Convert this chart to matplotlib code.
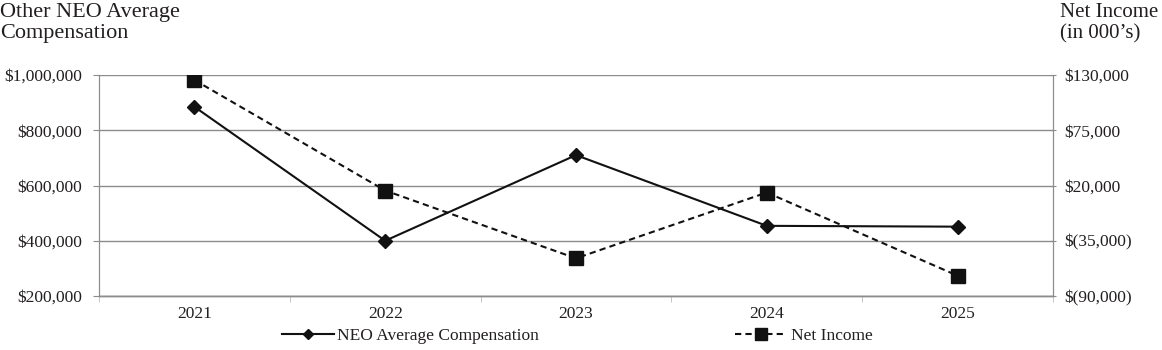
import numpy as np
import matplotlib
matplotlib.use('Agg')
import matplotlib.pyplot as plt
from matplotlib.ticker import FuncFormatter, FixedLocator
from matplotlib.lines import Line2D

YEARS = ['2021', '2022', '2023', '2024', '2025']
NEO_COMP = [885000, 400000, 710000, 454000, 451000]
NET_INCOME = [125000, 15000, -52500, 13000, -69800]

LEFT_TICKS = [200000, 400000, 600000, 800000, 1000000]
RIGHT_TICKS = [-90000, -35000, 20000, 75000, 130000]

plt.rcParams['font.family'] = ['Liberation Serif', 'DejaVu Serif']
TXT = '#231f20'
GRID = '#8c8c8c'

def left_fmt(v, pos):
    return '${:,.0f}'.format(v)

def right_fmt(v, pos):
    if v < 0:
        return '$({:,.0f})'.format(-v)
    return '${:,.0f}'.format(v)

fig = plt.figure(figsize=(11.62, 3.5), dpi=100)
ax = fig.add_axes([99 / 1162, 1 - 296 / 350, (1053 - 99) / 1162, (296 - 75) / 350])
ax2 = ax.twinx()

x = np.arange(len(YEARS))
ax.plot(x, NEO_COMP, color='#111111', lw=1.5, marker='D', ms=7, zorder=3)
ax2.plot(x, NET_INCOME, color='#111111', lw=1.5, ls=(0, (3, 2)), marker='s', ms=9.5, zorder=3)

ax.set_xlim(-0.5, len(YEARS) - 0.5)
ax.set_ylim(LEFT_TICKS[0], LEFT_TICKS[-1])
ax2.set_ylim(RIGHT_TICKS[0], RIGHT_TICKS[-1])
ax.set_yticks(LEFT_TICKS)
ax2.set_yticks(RIGHT_TICKS)
ax.yaxis.set_major_formatter(FuncFormatter(left_fmt))
ax2.yaxis.set_major_formatter(FuncFormatter(right_fmt))

ax.set_xticks(x, YEARS)
ax.xaxis.set_minor_locator(FixedLocator(np.arange(-0.5, len(YEARS), 1.0)))
ax.tick_params(axis='x', which='major', length=0, pad=7, labelsize=12.5, labelcolor=TXT)
ax.tick_params(axis='x', which='minor', length=4, color='#bdbdbd', direction='out')
ax.tick_params(axis='y', length=4, color=GRID, pad=8, labelsize=12.5, labelcolor=TXT)
ax2.tick_params(axis='y', length=4, color=GRID, pad=6, labelsize=12.5, labelcolor=TXT,
                direction='inout')

ax.grid(axis='y', color=GRID, lw=1)
ax.set_axisbelow(True)
for a in (ax, ax2):
    a.spines['top'].set_visible(False)
    a.spines['left'].set_color(GRID)
    a.spines['right'].set_color(GRID)
    a.spines['bottom'].set_color(GRID)
    a.spines['bottom'].set_linewidth(1)

fig.text(0.0, 0.992, 'Other NEO Average\nCompensation', ha='left', va='top',
         fontsize=16, color=TXT, linespacing=1.15)
fig.text(1060 / 1162, 0.992, 'Net Income\n(in 000\u2019s)', ha='left', va='top',
         fontsize=15, color=TXT, linespacing=1.2)

handles = [
    Line2D([], [], color='#111111', lw=1.5, marker='D', ms=5),
    Line2D([], [], color='#111111', lw=1.5, ls=(0, (3, 2)), marker='s', ms=8),
]
fig.legend(handles, ['NEO Average Compensation', 'Net Income'], loc='center',
           bbox_to_anchor=(577 / 1162, 1 - 336 / 350), ncol=2, frameon=False,
           fontsize=12.5, columnspacing=11.3, handlelength=3.0, handletextpad=0.2,
           labelcolor=TXT)

fig.savefig('out.png', dpi=100)
